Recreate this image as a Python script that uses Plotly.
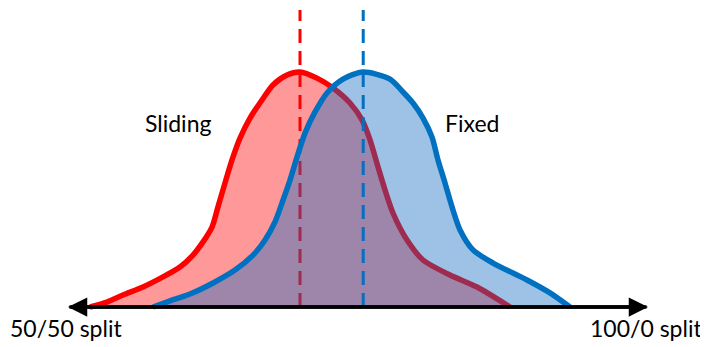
import plotly.graph_objects as go

# Position on the split axis (0 = 50/50, 100 = 100/0) and relative density
sliding_x = [3.79, 6.72, 9.48, 12.93, 16.38, 19.31, 21.55, 23.28, 24.83, 25.86, 27.07, 28.28,
             29.66, 31.38, 33.45, 35.34, 37.76, 40.0, 42.93, 45.69, 48.62, 50.69, 52.07,
             53.45, 54.66, 56.03, 58.45, 61.21, 65.86, 70.52, 76.21]
sliding_y = [0, 0.021, 0.051, 0.085, 0.128, 0.170, 0.221, 0.277, 0.340, 0.426, 0.528, 0.626,
             0.719, 0.804, 0.881, 0.945, 0.987, 1.0, 0.974, 0.932, 0.868, 0.796, 0.711,
             0.596, 0.498, 0.400, 0.285, 0.200, 0.136, 0.085, 0]
fixed_x = [14.66, 17.59, 21.03, 25.0, 28.79, 31.90, 33.97, 35.69, 37.07, 38.28, 39.48, 40.86,
           42.59, 44.66, 47.41, 50.86, 55.52, 57.76, 59.48, 61.21, 62.76, 63.79, 65.0,
           66.21, 67.59, 69.83, 73.28, 79.14, 83.10, 86.55]
fixed_y = [0, 0.026, 0.055, 0.102, 0.157, 0.221, 0.285, 0.362, 0.455, 0.540, 0.638, 0.740,
           0.830, 0.911, 0.970, 1.0, 0.970, 0.915, 0.868, 0.804, 0.723, 0.626, 0.528,
           0.426, 0.328, 0.243, 0.187, 0.115, 0.060, 0]
sliding_peak = 40.0
fixed_peak = 50.9
dash_top = 1.264
axis_ends = [0, 100]
end_labels = ["50/50 split", "100/0 split"]
series_labels = ["Sliding", "Fixed"]

FONT = "Lato, 'Open Sans', sans-serif"
SMOOTH = 0.75
fig = go.Figure()

# Sliding (red)
fig.add_trace(go.Scatter(x=sliding_x, y=sliding_y, mode="lines",
                         line=dict(color="#ff0000", width=5.5, shape="spline", smoothing=SMOOTH),
                         fill="tozeroy", fillcolor="rgba(255,0,0,0.4)", hoverinfo="skip"))
fig.add_trace(go.Scatter(x=[sliding_peak, sliding_peak], y=[0, dash_top], mode="lines",
                         line=dict(color="#ff0000", width=3, dash="14px,8px"), hoverinfo="skip"))
fig.add_trace(go.Scatter(x=[fixed_peak, fixed_peak], y=[0, dash_top], mode="lines",
                         line=dict(color="#0070c0", width=3, dash="14px,8px"), hoverinfo="skip"))
# Fixed (blue)
fig.add_trace(go.Scatter(x=fixed_x, y=fixed_y, mode="lines",
                         line=dict(color="rgba(0,0,0,0)", width=0, shape="spline", smoothing=SMOOTH),
                         fill="tozeroy", fillcolor="rgba(16,108,194,0.41)", hoverinfo="skip"))
fig.add_trace(go.Scatter(x=fixed_x, y=fixed_y, mode="lines",
                         line=dict(color="#0070c0", width=5.5, shape="spline", smoothing=SMOOTH),
                         hoverinfo="skip"))

# Axis with arrows at both ends
fig.add_annotation(x=axis_ends[0], y=0, ax=axis_ends[1], ay=0, xref="x", yref="y", axref="x", ayref="y",
                   showarrow=True, arrowhead=2, arrowsize=1.1, arrowwidth=3.5, arrowcolor="black", text="")
fig.add_annotation(x=axis_ends[1], y=0, ax=axis_ends[0], ay=0, xref="x", yref="y", axref="x", ayref="y",
                   showarrow=True, arrowhead=2, arrowsize=1.1, arrowwidth=3.5, arrowcolor="black", text="")

lab_font = dict(family=FONT, size=23, color="black")
fig.add_annotation(x=19.0, y=0.783, text=series_labels[0], showarrow=False, font=lab_font)
fig.add_annotation(x=69.7, y=0.783, text=series_labels[1], showarrow=False, font=lab_font)
fig.add_annotation(x=-0.34, y=-0.089, text=end_labels[0], showarrow=False, font=lab_font)
fig.add_annotation(x=99.7, y=-0.089, text=end_labels[1], showarrow=False, font=lab_font)

# The page body adds an 8px offset, so the ranges are set relative to it
fig.update_layout(width=708, height=347, margin=dict(l=0, r=0, t=0, b=0),
                  paper_bgcolor="white", plot_bgcolor="white", showlegend=False,
                  xaxis=dict(range=[-60/5.8, 648/5.8], visible=False, fixedrange=True),
                  yaxis=dict(range=[-48/235, 299/235], visible=False, fixedrange=True))
fig.write_html("out.html")
